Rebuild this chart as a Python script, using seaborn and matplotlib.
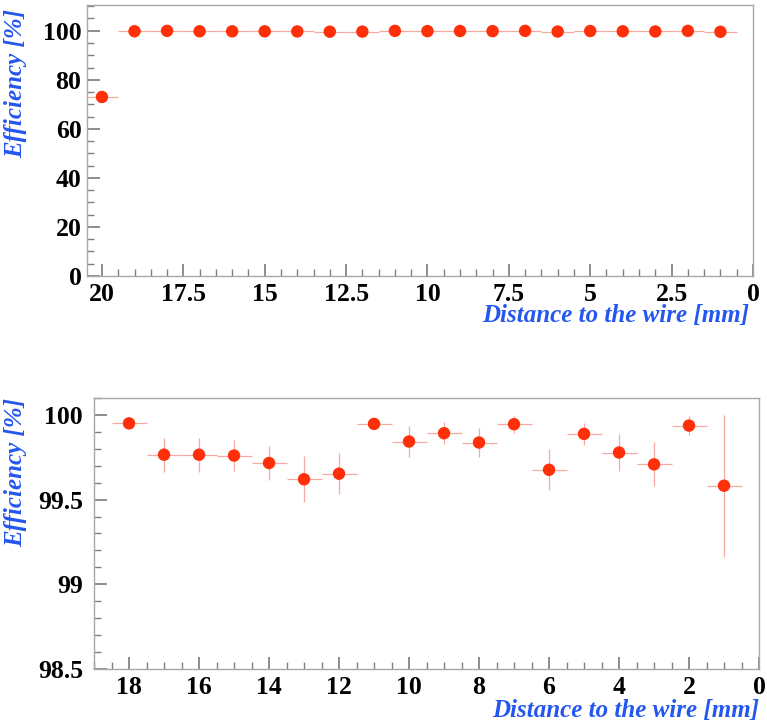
import matplotlib

matplotlib.use("Agg")

import matplotlib.pyplot as plt
import numpy as np
import pandas as pd
import seaborn as sns
from matplotlib.ticker import MultipleLocator

# --- data ------------------------------------------------------------------
top_dist = [20, 19, 18, 17, 16, 15, 14, 13, 12, 11, 10, 9, 8, 7, 6, 5, 4, 3, 2, 1]
top_eff = [73.0, 99.8, 99.95, 99.77, 99.77, 99.76, 99.72, 99.62, 99.65, 99.95,
           99.84, 99.89, 99.84, 99.95, 99.68, 99.89, 99.78, 99.71, 99.94, 99.58]
top_err = [0.4, 0.05, 0.02, 0.10, 0.10, 0.09, 0.10, 0.14, 0.12, 0.03,
           0.09, 0.065, 0.09, 0.05, 0.12, 0.067, 0.11, 0.13, 0.055, 0.42]

zoom_dist = [18, 17, 16, 15, 14, 13, 12, 11, 10, 9, 8, 7, 6, 5, 4, 3, 2, 1]
zoom_eff = [99.95, 99.765, 99.765, 99.76, 99.716, 99.62, 99.653, 99.947,
            99.843, 99.892, 99.837, 99.945, 99.676, 99.888, 99.778, 99.708,
            99.937, 99.582]
zoom_err = [0.025, 0.10, 0.10, 0.09, 0.10, 0.137, 0.12, 0.03,
            0.09, 0.065, 0.088, 0.05, 0.12, 0.067, 0.108, 0.13, 0.055, 0.42]
bin_half = 0.5

x_label = "Distance to the wire [mm]"
y_label = "Efficiency [%]"

MARKER = "#ff2f0a"
ERRCOL = "#f7aaa2"
LABEL_BLUE = "#2456f0"
FRAME = "#a8a8a8"

sns.set_theme(style="ticks")
plt.rcParams["font.family"] = ["Liberation Serif", "DejaVu Serif"]
plt.rcParams["font.weight"] = "bold"


def draw_panel(ax, dist, eff, err, ypad):
    df = pd.DataFrame({"dist": dist, "eff": eff, "err": err})
    ax.errorbar(df["dist"], df["eff"], xerr=bin_half, yerr=df["err"],
                fmt="none", ecolor=ERRCOL, elinewidth=0.9, capsize=0, zorder=2)
    sns.scatterplot(data=df, x="dist", y="eff", ax=ax, color=MARKER, s=80,
                    edgecolor="none", linewidth=0, zorder=3, legend=False)
    for sp in ax.spines.values():
        sp.set_color(FRAME)
        sp.set_linewidth(1.0)
    ax.tick_params(which="both", direction="in", color="#808080", labelsize=18.5,
                   labelcolor="black")
    ax.tick_params(axis="x", which="major", length=9, pad=5)
    ax.tick_params(axis="x", which="minor", length=5)
    ax.tick_params(axis="y", which="major", length=9, pad=ypad)
    ax.tick_params(axis="y", which="minor", length=5)
    ax.set_xlabel(x_label, loc="right", color=LABEL_BLUE, fontsize=18,
                  fontstyle="italic", fontweight="bold")
    ax.set_ylabel(y_label, loc="top", color=LABEL_BLUE, fontsize=18,
                  fontstyle="italic", fontweight="bold")


fig = plt.figure(figsize=(7.67, 7.24), dpi=100)
ax1 = fig.add_axes([0.1134, 0.6188, 0.8683, 0.3743])
ax2 = fig.add_axes([0.1226, 0.0760, 0.8670, 0.3743])

draw_panel(ax1, top_dist, top_eff, top_err, ypad=4)
ax1.set_xlim(20.46, 0)
ax1.set_ylim(0, 110.5)
ax1.set_xticks(np.arange(0, 20.1, 2.5))
ax1.set_xticklabels(["0", "2.5", "5", "7.5", "10", "12.5", "15", "17.5", "20"])
ax1.xaxis.set_minor_locator(MultipleLocator(0.5))
ax1.set_yticks(np.arange(0, 101, 20))
ax1.yaxis.set_minor_locator(MultipleLocator(5))
ax1.xaxis.set_label_coords(0.995, -0.105)
ax1.yaxis.set_label_coords(-0.09, 0.985)

draw_panel(ax2, zoom_dist, zoom_eff, zoom_err, ypad=8)
ax2.set_xlim(19, 0)
ax2.set_ylim(98.5, 100.1)
ax2.set_xticks(np.arange(0, 19, 2))
ax2.xaxis.set_minor_locator(MultipleLocator(0.5))
ax2.set_yticks([98.5, 99, 99.5, 100])
ax2.set_yticklabels(["98.5", "99", "99.5", "100"])
ax2.yaxis.set_minor_locator(MultipleLocator(0.1))
ax2.xaxis.set_label_coords(1.0, -0.11)
ax2.yaxis.set_label_coords(-0.10, 1.0)

for ax in (ax1, ax2):
    for lab in ax.get_xticklabels() + ax.get_yticklabels():
        lab.set_fontweight("bold")

fig.savefig("out.png", dpi=100)
plt.close(fig)
